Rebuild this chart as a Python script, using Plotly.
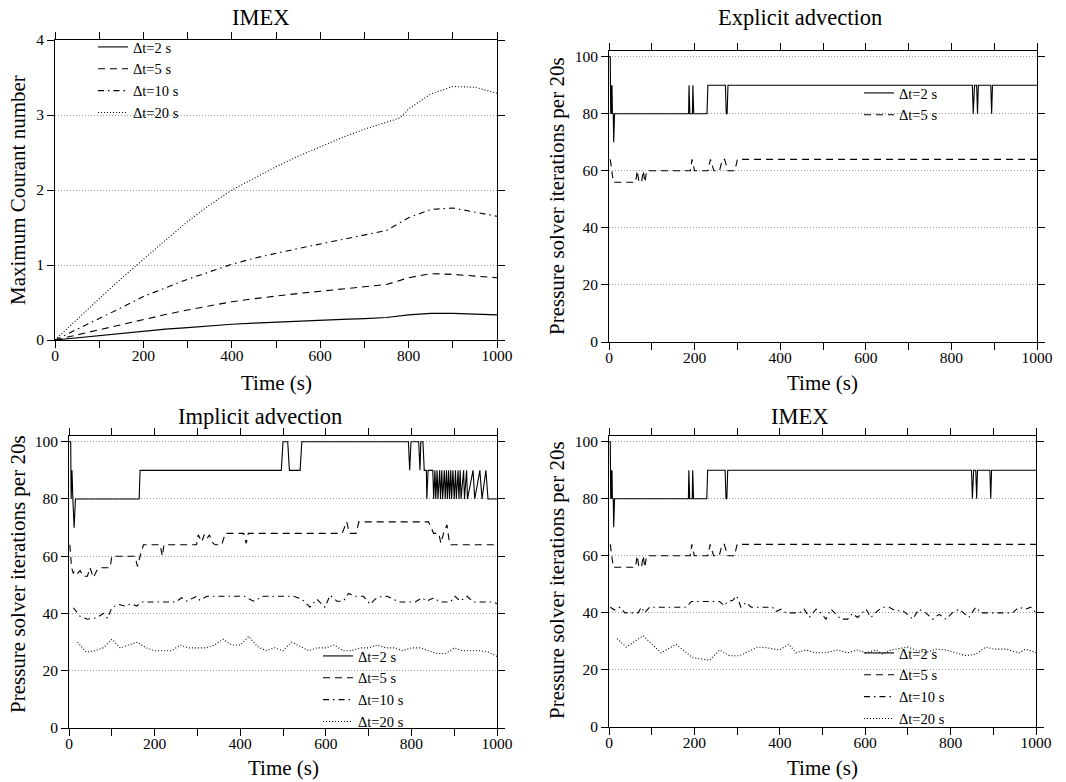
import plotly.graph_objects as go

# ---------------- data: Courant number (IMEX) ----------------
t_c = [0, 50, 100, 150, 200, 250, 300, 350, 400, 450, 500, 550, 600, 650, 700, 750, 800, 850, 900, 950, 1000]
courant_dt2 = [0, 0.03, 0.06, 0.09, 0.12, 0.145, 0.165, 0.19, 0.21, 0.225, 0.24, 0.25, 0.265, 0.275, 0.285, 0.30, 0.335, 0.355, 0.355, 0.345, 0.335]
courant_dt5 = [0, 0.07, 0.14, 0.21, 0.275, 0.34, 0.40, 0.455, 0.51, 0.55, 0.59, 0.62, 0.65, 0.68, 0.71, 0.74, 0.83, 0.885, 0.875, 0.855, 0.83]
courant_dt10 = [0, 0.14, 0.28, 0.43, 0.58, 0.70, 0.81, 0.91, 1.01, 1.09, 1.16, 1.22, 1.28, 1.34, 1.40, 1.46, 1.63, 1.74, 1.76, 1.71, 1.65]
t_c20 = [0, 50, 100, 150, 200, 250, 300, 350, 400, 450, 500, 550, 600, 650, 700, 750, 780, 800, 850, 900, 950, 1000]
courant_dt20 = [0, 0.28, 0.55, 0.82, 1.08, 1.33, 1.58, 1.80, 2.00, 2.16, 2.31, 2.45, 2.58, 2.70, 2.81, 2.91, 2.96, 3.08, 3.28, 3.38, 3.37, 3.29]

# ---------------- data: explicit advection (also IMEX dt=2, dt=5) ----------------
exp_dt2_t = [0, 3, 4, 5, 6, 7, 8, 10, 11, 13, 186, 187, 189, 195, 196, 198, 229, 231, 272, 274, 276, 278,
             849, 851, 854, 859, 861, 863, 892, 894, 896, 1000]
exp_dt2_v = [100, 100, 80, 90, 80, 90, 80, 80, 70, 80, 80, 90, 80, 80, 90, 80, 80, 90, 90, 80, 80, 90,
             90, 80, 90, 90, 80, 90, 90, 80, 90, 90]
exp_dt5_t = [3, 8, 10, 62, 66, 70, 76, 80, 84, 88, 190, 194, 200, 231, 237, 245, 258, 265, 270, 278, 294, 300, 1000]
exp_dt5_v = [64, 57, 56, 56, 60, 56, 56, 60, 56, 60, 60, 64, 60, 60, 64, 60, 60, 64, 64, 60, 60, 64, 64]

# ---------------- data: implicit advection ----------------
imp_dt2_t = [0, 4, 5, 7, 9, 12, 15, 164, 166, 496, 500, 511, 515, 540, 544, 793, 796, 799, 817, 820, 822, 827, 830,
             835, 836, 839, 850, 852, 855, 857, 860, 862, 866, 868, 871, 873, 877, 879, 882, 884, 887, 889, 892,
             894, 897, 900, 903, 905, 909, 911, 914, 916, 922, 924, 929, 931, 944, 948, 960, 965, 974, 979, 1000]
imp_dt2_v = [100, 100, 80, 90, 80, 70, 80, 80, 90, 90, 100, 100, 90, 90, 100, 100, 90, 100, 100, 90, 100, 100, 90,
             90, 80, 90, 90, 80, 90, 80, 90, 80, 90, 80, 90, 80, 90, 80, 90, 80, 90, 80, 90,
             80, 90, 80, 90, 80, 90, 80, 90, 80, 90, 80, 90, 80, 90, 80, 90, 80, 90, 80, 80]
imp_dt5_t = [2, 6, 10, 14, 20, 26, 33, 43, 49, 57, 65, 72, 96, 100, 154, 160, 166, 174, 213, 218, 222, 298, 302, 310,
             316, 322, 328, 334, 341, 357, 365, 408, 414, 419, 638, 649, 655, 671, 677, 840, 852, 864, 869, 875,
             883, 889, 892, 1000]
imp_dt5_v = [64, 56, 54, 55, 54, 55, 53, 53, 56, 52.5, 55, 56, 56, 60, 60, 56.5, 60, 64, 64, 60, 64, 64, 67.5, 65,
             67.5, 66, 67.5, 65, 64, 64, 68, 68, 64.5, 68, 68, 72, 68, 68, 72, 72, 68, 68, 64.5, 68,
             71, 64.5, 64, 64]
imp_dt10_t = [10, 26, 43, 65, 80, 90, 100, 115, 131, 146, 158, 170, 250, 263, 275, 298, 306, 322, 410, 431, 454, 525,
              544, 563, 579, 598, 610, 626, 641, 653, 669, 688, 704, 715, 731, 743, 758, 770, 809, 825, 836, 852,
              867, 891, 902, 914, 930, 945, 992, 1000]
imp_dt10_v = [42, 39, 38, 38.5, 40, 38.3, 42, 43.2, 42.6, 43.4, 42.6, 44, 44, 45.5, 44.3, 46, 44.6, 46, 46, 44.3, 46, 46,
              45, 42.2, 45, 42.2, 46.4, 44.3, 44.3, 47, 46, 46, 43.2, 45, 46, 46, 45, 44, 44, 45.5, 44.3, 45.5,
              44, 44, 46, 44.3, 46, 44, 44, 43.4]
t_20 = [20, 40, 60, 80, 100, 120, 140, 160, 180, 200, 220, 240, 260, 280, 300, 320, 340, 360, 380, 400, 420, 440, 460,
        480, 500, 520, 540, 560, 580, 600, 620, 640, 660, 680, 700, 720, 740, 760, 780, 800, 820, 840, 860, 880,
        900, 920, 940, 960, 980, 1000]
imp_dt20_v = [30, 26.5, 27, 28, 31, 28, 29, 30, 28, 27, 27, 27, 29, 28, 28, 28, 29, 31, 29, 29, 32, 28.5, 27,
              28, 27, 30, 28.5, 27, 28, 28, 29, 27, 27, 28, 28, 29, 28, 28, 27, 28, 28, 27, 26, 26,
              28, 27, 27, 27, 26.5, 25]

# ---------------- data: IMEX iterations ----------------
imex_dt2_t, imex_dt2_v = exp_dt2_t, exp_dt2_v
imex_dt5_t, imex_dt5_v = exp_dt5_t, exp_dt5_v
imex_dt10_t = [3, 13, 26, 37, 68, 76, 83, 95, 181, 193, 259, 270, 278, 290, 299, 309, 321, 333, 383, 391, 403, 415,
               446, 457, 469, 485, 496, 508, 520, 532, 543, 559, 570, 582, 602, 613, 629, 641, 656, 672, 687, 699,
               711, 726, 742, 758, 773, 789, 804, 820, 835, 843, 859, 871, 945, 960, 976, 988, 1000]
imex_dt10_v = [42, 41, 42, 40, 40, 42, 40, 42, 42, 44, 44, 42.5, 44, 44.4, 46, 42, 43.7, 42, 42, 40.5, 41.3, 40,
               40, 41.3, 38.4, 41.3, 40, 37.8, 41.3, 39.5, 37.8, 37.8, 39.8, 38.4, 41.3, 38.4, 40.7, 42, 42, 40.7, 40.9, 39.5,
               37.8, 41.3, 40, 37.8, 39.5, 37.8, 40, 41.3, 39.5, 38.4, 42, 40, 40, 42, 41.3, 42, 40]
imex_dt20_t = [19, 40, 80, 122, 157, 196, 235, 259, 282, 306, 348, 368, 399, 421, 438, 461, 485, 508, 535, 559, 582,
               602, 625, 641, 660, 680, 699, 719, 742, 765, 789, 812, 836, 859, 882, 902, 929, 960, 976, 1000]
imex_dt20_v = [31, 28, 32, 26, 29, 24.3, 23.4, 27, 25, 25, 28, 27.8, 27, 29, 26, 27, 26, 26, 27, 26, 27,
               26, 27, 25.5, 27, 27.6, 28, 27, 26, 27.3, 27, 26, 25, 25.5, 28, 27.3, 27.3, 26, 27.3, 26]

labels = ["\u0394t=2 s", "\u0394t=5 s", "\u0394t=10 s", "\u0394t=20 s"]
dashes = ["solid", "7px,5px", "6px,4px,1.5px,4px", "1px,2px"]

FONT = "Liberation Serif"
W, H = 1066, 782

fig = go.Figure()


def add(x, y, i, ax, legend, show=True):
    fig.add_trace(go.Scatter(
        x=x, y=y, mode="lines", name=labels[i],
        line=dict(color="black", width=1.1, dash=dashes[i]),
        xaxis="x" + ax, yaxis="y" + ax, legend=legend, showlegend=show))


add(t_c, courant_dt2, 0, "", "legend")
add(t_c, courant_dt5, 1, "", "legend")
add(t_c, courant_dt10, 2, "", "legend")
add(t_c20, courant_dt20, 3, "", "legend")

add(exp_dt2_t, exp_dt2_v, 0, "2", "legend2")
add(exp_dt5_t, exp_dt5_v, 1, "2", "legend2")

add(imp_dt2_t, imp_dt2_v, 0, "3", "legend3")
add(imp_dt5_t, imp_dt5_v, 1, "3", "legend3")
add(imp_dt10_t, imp_dt10_v, 2, "3", "legend3")
add(t_20, imp_dt20_v, 3, "3", "legend3")

add(imex_dt2_t, imex_dt2_v, 0, "4", "legend4")
add(imex_dt5_t, imex_dt5_v, 1, "4", "legend4")
add(imex_dt10_t, imex_dt10_v, 2, "4", "legend4")
add(imex_dt20_t, imex_dt20_v, 3, "4", "legend4")


def px_x(a, b):
    return [a / W, b / W]


def px_y(bottom, top):
    return [1 - bottom / H, 1 - top / H]


x_ticks = list(range(0, 1001, 100))
x_text = [str(v) if v % 200 == 0 else "" for v in x_ticks]

common_x = dict(range=[0, 1000], tickvals=x_ticks, ticktext=x_text, ticks="outside", ticklen=7,
                tickcolor="black", showline=True, linecolor="black", linewidth=1, mirror="ticks",
                showgrid=False, zeroline=False, automargin=False, ticklabelstandoff=-6,
                tickfont=dict(family=FONT, size=15.5, color="black"))
common_y = dict(ticks="outside", ticklen=7, tickcolor="black", showline=True, linecolor="black",
                linewidth=1, mirror="ticks", showgrid=True, gridcolor="#9a9a9a", griddash="1px,2px",
                gridwidth=1, zeroline=False, automargin=False,
                tickfont=dict(family=FONT, size=15.5, color="black"))

panels = {
    "": (px_x(55, 497), px_y(340, 40), [0, 4], [0, 1, 2, 3, 4]),
    "2": (px_x(609, 1037), px_y(342, 51), [0, 102], [0, 20, 40, 60, 80, 100]),
    "3": (px_x(69, 497), px_y(728, 436), [0, 102], [0, 20, 40, 60, 80, 100]),
    "4": (px_x(609, 1036), px_y(727, 436), [0, 102], [0, 20, 40, 60, 80, 100]),
}
lay = {}
for k, (dx, dy, yr, yt) in panels.items():
    lay["xaxis" + k] = dict(common_x, domain=dx, anchor="y" + k)
    lay["yaxis" + k] = dict(common_y, domain=dy, anchor="x" + k, range=yr, tickvals=yt)

annots = []


def text(s, x, y, size, angle=0):
    annots.append(dict(text=s, x=x / W, y=1 - y / H, xref="paper", yref="paper", showarrow=False,
                       xanchor="center", yanchor="middle", textangle=angle,
                       font=dict(family=FONT, size=size, color="black")))


text("IMEX", 261, 18, 22.5)
text("Explicit advection", 800, 18, 22.5)
text("Implicit advection", 260, 416, 22.5)
text("IMEX", 800, 416, 22.5)
text("Time (s)", 276, 383, 21)
text("Time (s)", 822, 383, 21)
text("Time (s)", 283, 768, 21)
text("Time (s)", 822, 768, 21)
text("Maximum Courant number", 18, 190, 21, -90)
text("Pressure solver iterations per 20s", 557, 196, 21, -90)
text("Pressure solver iterations per 20s", 18, 574, 21, -90)
text("Pressure solver iterations per 20s", 557, 580, 21, -90)


def leg(xpx, ypx):
    return dict(x=xpx / W, y=1 - ypx / H, xanchor="left", yanchor="top", bgcolor="rgba(0,0,0,0)",
                borderwidth=0, tracegroupgap=0, font=dict(family=FONT, size=14.5, color="black"))


fig.update_layout(
    width=W, height=H, margin=dict(l=0, r=0, t=0, b=0, autoexpand=False),
    paper_bgcolor="white", plot_bgcolor="white",
    font=dict(family=FONT, color="black"),
    annotations=annots,
    legend=leg(93, 31), legend2=leg(859, 77), legend3=leg(318, 640), legend4=leg(859, 637),
    **lay)

fig.write_html("out.html", config={"displayModeBar": False},
               post_script="document.body.style.margin='0px';")
